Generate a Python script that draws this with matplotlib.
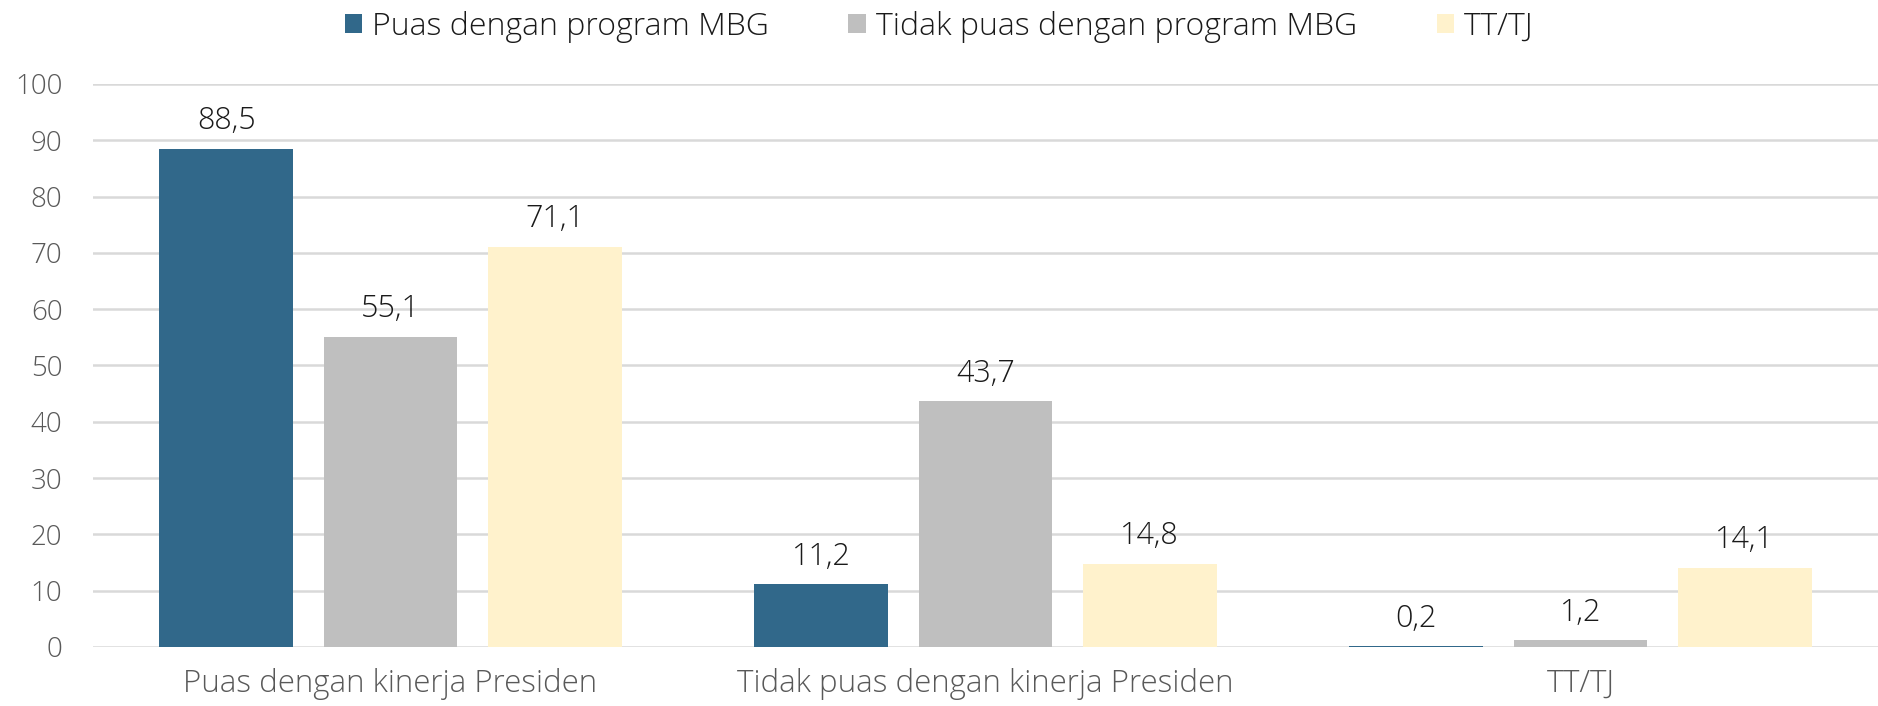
import numpy as np
import matplotlib.pyplot as plt

plt.rcParams['font.family'] = ['Open Sans', 'DejaVu Sans']
plt.rcParams['font.weight'] = 'light'

categories = ['Puas dengan kinerja Presiden', 'Tidak puas dengan kinerja Presiden', 'TT/TJ']
series = ['Puas dengan program MBG', 'Tidak puas dengan program MBG', 'TT/TJ']
puas_mbg = [88.5, 11.2, 0.2]
tidak_puas_mbg = [55.1, 43.7, 1.2]
tt_tj = [71.1, 14.8, 14.1]
colors = ['#31688A', '#BFBFBF', '#FFF2CC']

fig = plt.figure(figsize=(18.78, 7.06), dpi=100)
ax = fig.add_axes([0.0495, 0.0836, 0.9505, 0.7975])

x = np.arange(len(categories))
step = 0.276
width = 0.225
for i, (name, vals) in enumerate(zip(series, [puas_mbg, tidak_puas_mbg, tt_tj])):
    pos = x + (i - 1) * step
    bars = ax.bar(pos, vals, width, color=colors[i], label=name, zorder=3)
    for b, v in zip(bars, vals):
        ax.text(b.get_x() + b.get_width() / 2, v + 2.0, f'{v:.1f}'.replace('.', ','),
                ha='center', va='bottom', fontsize=22, color='#1a1a1a')

ax.set_xlim(-0.5, 2.5)
ax.set_ylim(0, 100)
ax.set_yticks(range(0, 101, 10))
ax.set_xticks(x)
ax.set_xticklabels(categories, fontsize=22.5)
ax.tick_params(axis='both', length=0, colors='#595959')
ax.tick_params(axis='y', labelsize=20, pad=22)
ax.tick_params(axis='x', pad=15)
ax.grid(axis='y', color='#D9D9D9', linewidth=1.8, zorder=0)
for s in ax.spines.values():
    s.set_visible(False)

fig.legend(loc='upper center', bbox_to_anchor=(0.5, 1.025), ncol=3, frameon=False,
           fontsize=23, labelcolor='#1a1a1a', handlelength=0.55, handleheight=0.55,
           handletextpad=0.3, columnspacing=2.5)

fig.savefig('out.png', dpi=100)
